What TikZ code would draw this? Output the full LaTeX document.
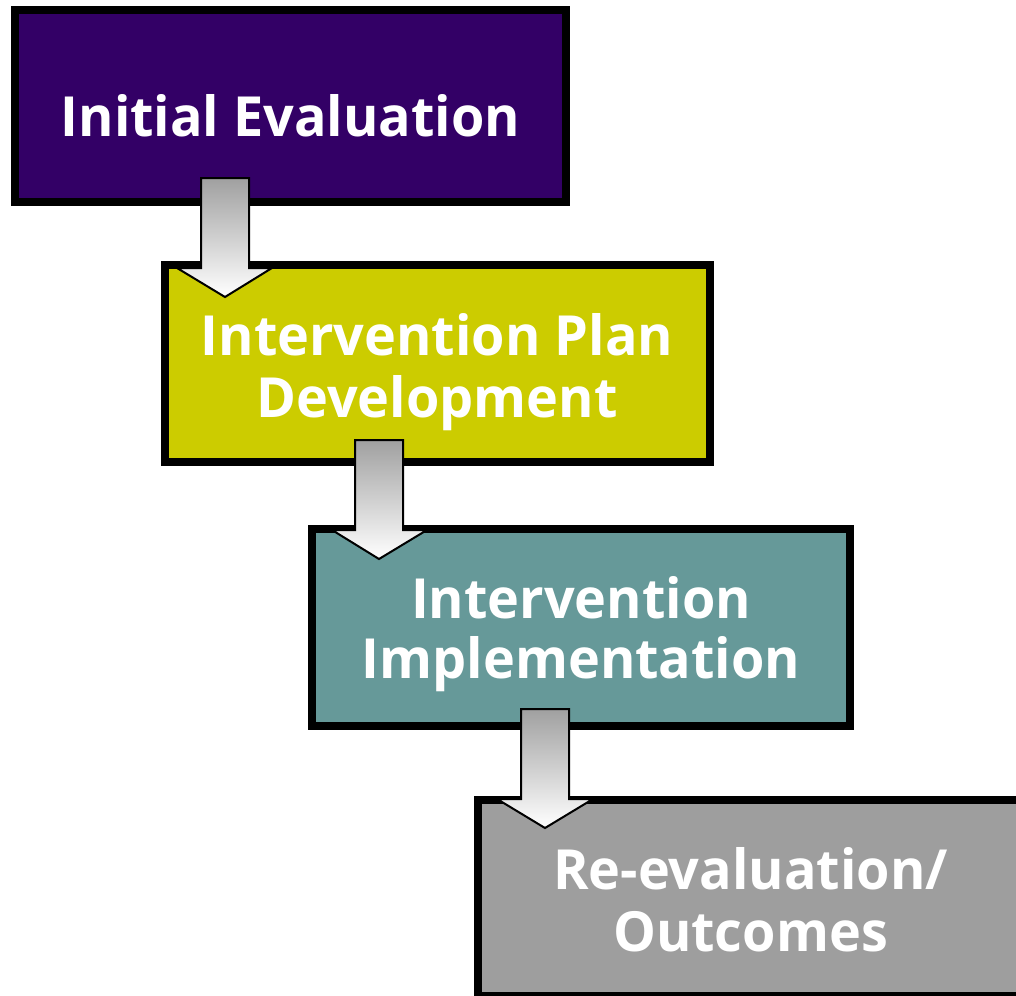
\documentclass[tikz,border=0pt]{standalone}
\usepackage{fontspec}
\newfontfamily\boxfont{Open Sans}
\definecolor{cpurple}{HTML}{330066}
\definecolor{cyellow}{HTML}{CCCC00}
\definecolor{cteal}{HTML}{669999}
\definecolor{cgray}{HTML}{9E9E9E}
\definecolor{arrowtop}{HTML}{A0A0A0}
\newsavebox\measbox
\newcommand{\hs}[1]{\scalebox{\hfac}[1]{#1}}
\begin{document}
\sbox\measbox{\boxfont\bfseries\fontsize{55.3}{62}\selectfont Intervention}%
\pgfmathsetmacro\hfac{340/(\the\wd\measbox)}%
\begin{tikzpicture}[x=1pt,y=-1pt,
  stagebox/.style={draw=black, line width=8pt, inner sep=0pt, outer sep=0pt, anchor=north west},
  stagetext/.style={text=white, anchor=base, inner sep=0pt, font=\boxfont\bfseries\fontsize{55.3}{62}\selectfont},
  blockarrow/.style={draw=black, line width=2pt, line join=miter, top color=arrowtop, bottom color=white}]
\useasboundingbox (0,0) rectangle (1016,995);
\clip (0,0) rectangle (1016,995);
% boxes
\node[stagebox, fill=cpurple, minimum width=551pt, minimum height=192pt] (b1) at (15,10) {};
\node[stagebox, fill=cyellow, minimum width=545pt, minimum height=197pt] (b2) at (165,265) {};
\node[stagebox, fill=cteal, minimum width=538pt, minimum height=197pt] (b3) at (312,529) {};
\node[stagebox, fill=cgray, minimum width=552pt, minimum height=196pt] (b4) at (478,800) {};
% texts
\node[stagetext] (t1) at (290.5,137) {\hs{Initial Evaluation}};
\node[stagetext] (t2a) at (437,355) {\hs{Intervention Plan}};
\node[stagetext] (t2b) at (437,417) {\hs{Development}};
\node[stagetext] (t3a) at (581,618) {\hs{Intervention}};
\node[stagetext] (t3b) at (581,678) {\hs{Implementation}};
\node[stagetext] (t4a) at (750.5,889) {\hs{Re-evaluation/}};
\node[stagetext] (t4b) at (750.5,951) {\hs{Outcomes}};
% block arrows
\shade[blockarrow] (201,178) -- (249,178) -- (249,268) -- (272,268) -- (225,297) -- (177,268) -- (201,268) -- cycle;
\shade[blockarrow] (355,440) -- (403,440) -- (403,530) -- (427,530) -- (379,559) -- (332,530) -- (355,530) -- cycle;
\shade[blockarrow] (521,709) -- (569,709) -- (569,799) -- (593,799) -- (545,828) -- (497,799) -- (521,799) -- cycle;
\end{tikzpicture}
\end{document}
